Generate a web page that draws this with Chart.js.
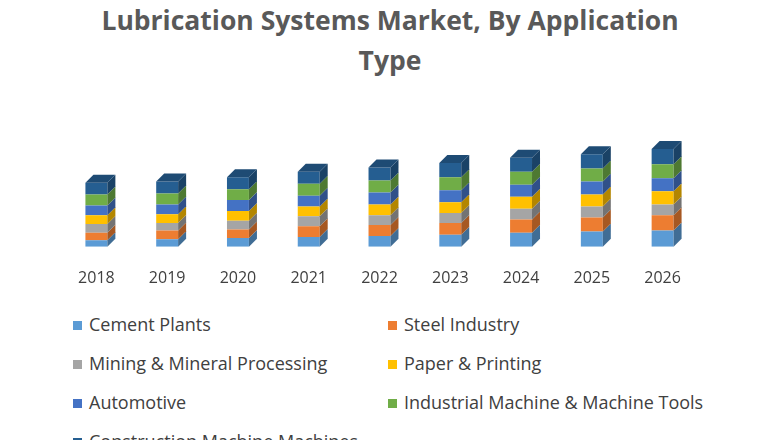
<!DOCTYPE html>
<html lang="en">
<head>
    <meta charset="UTF-8">
    <title>Lubrication Systems Market</title>
    <script src="https://cdn.jsdelivr.net/npm/chart.js"></script>
    <style>
        body { margin: 0; width: 780px; height: 440px; overflow: hidden; background: #fff; font-family: "Open Sans", Arial, sans-serif; }
        h1 { position: absolute; top: 0; left: 0; width: 780px; margin: 0; text-align: center; font-size: 26.5px; line-height: 40px; color: #595959; font-weight: bold; }
        #wrap { position: absolute; left: 40px; top: 100px; width: 700px; height: 202px; }
        #legend { position: absolute; top: 312px; left: 73px; width: 680px; }
        .item { position: absolute; font-size: 18px; color: #404040; white-space: nowrap; }
        .item span { display: inline-block; width: 9px; height: 9px; margin-right: 7px; vertical-align: 1px; }
    </style>
</head>
<body>
    <h1>Lubrication Systems Market, By Application<br>Type</h1>
    <div id="wrap"><canvas id="chart"></canvas></div>
    <div id="legend"></div>
    <script>
        const years = ["2018", "2019", "2020", "2021", "2022", "2023", "2024", "2025", "2026"];
        const seriesNames = ["Cement Plants", "Steel Industry", "Mining & Mineral Processing", "Paper & Printing",
            "Automotive", "Industrial Machine & Machine Tools", "Construction Machine Machines"];
        const cement = [6, 7, 8, 9, 10, 11, 13, 14, 15];
        const steel = [7, 8, 8, 10, 10, 11, 12, 13, 14];
        const mining = [8, 7, 8, 9, 9, 9, 10, 10, 10];
        const paper = [8, 8, 9, 9, 10, 10, 11, 11, 12];
        const automotive = [9, 9, 10, 10, 11, 11, 11, 12, 12];
        const industrial = [10, 10, 10, 11, 11, 12, 12, 12, 13];
        const construction = [11, 11, 11, 11, 12, 13, 13, 13, 14];
        const colors = ["#5B9BD5", "#ED7D31", "#A5A5A5", "#FFC000", "#4472C4", "#70AD47", "#255E91"];
        const allSeries = [cement, steel, mining, paper, automotive, industrial, construction];

        function shade(hex, f) {
            let n = parseInt(hex.slice(1), 16);
            let r = Math.round(((n >> 16) & 255) * f), g = Math.round(((n >> 8) & 255) * f), b = Math.round((n & 255) * f);
            return `rgb(${r},${g},${b})`;
        }

        // fake 3D: side and top faces drawn from each bar's own geometry
        const depth = {
            id: 'depth',
            afterDatasetsDraw(chart) {
                const ctx = chart.ctx, d = 8;
                chart.data.datasets.forEach((ds, i) => {
                    const last = i === chart.data.datasets.length - 1;
                    chart.getDatasetMeta(i).data.forEach(bar => {
                        const r = bar.x + bar.width / 2, l = bar.x - bar.width / 2;
                        ctx.fillStyle = shade(colors[i], 0.7);
                        ctx.beginPath();
                        ctx.moveTo(r, bar.base); ctx.lineTo(r + d, bar.base - d);
                        ctx.lineTo(r + d, bar.y - d); ctx.lineTo(r, bar.y); ctx.closePath(); ctx.fill();
                        if (last) {
                            ctx.fillStyle = shade(colors[i], 0.8);
                            ctx.beginPath();
                            ctx.moveTo(l, bar.y); ctx.lineTo(l + d, bar.y - d);
                            ctx.lineTo(r + d, bar.y - d); ctx.lineTo(r, bar.y); ctx.closePath(); ctx.fill();
                        }
                    });
                });
            }
        };

        new Chart(document.getElementById('chart'), {
            type: 'bar',
            data: {
                labels: years,
                datasets: allSeries.map((s, i) => ({ label: seriesNames[i], data: s, backgroundColor: colors[i] }))
            },
            options: {
                responsive: true, maintainAspectRatio: false, animation: false,
                barPercentage: 0.31, categoryPercentage: 1,
                layout: { padding: { left: 21, right: 42 } },
                plugins: { legend: { display: false }, tooltip: { enabled: false } },
                scales: {
                    x: { stacked: true, grid: { display: false }, border: { display: false },
                        ticks: { color: '#404040', font: { size: 16, family: 'Open Sans' }, padding: 14 } },
                    y: { stacked: true, display: false, min: 0, max: 135 }
                }
            },
            plugins: [depth]
        });

        const legend = document.getElementById('legend');
        seriesNames.forEach((name, i) => {
            const el = document.createElement('div');
            el.className = 'item';
            el.style.left = (i % 2 ? 315 : 0) + 'px';
            el.style.top = (Math.floor(i / 2) * 39) + 'px';
            el.innerHTML = `<span style="background:${colors[i]}"></span>${name}`;
            legend.appendChild(el);
        });
    </script>
</body>
</html>
